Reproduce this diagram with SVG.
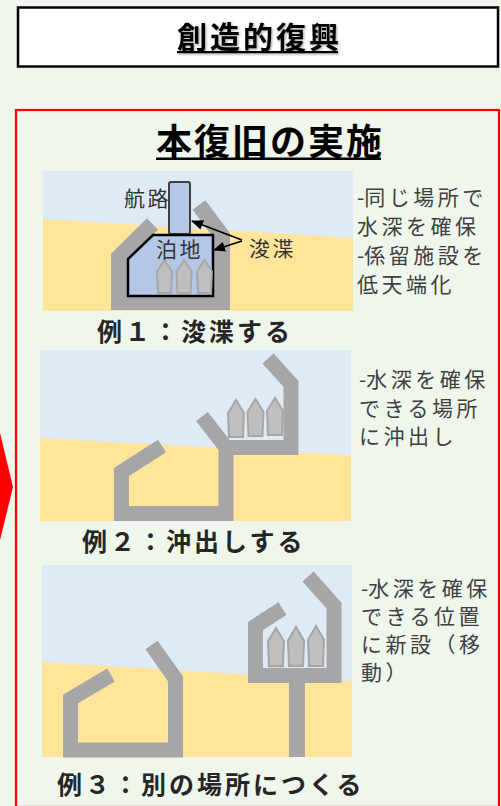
<svg xmlns="http://www.w3.org/2000/svg" width="501" height="806" viewBox="0 0 501 806">
  <style>
    .jp { font-family: "Noto Sans CJK JP", "Noto Sans", sans-serif; }
    .head { font-weight: 700; fill: #000; }
    .cap { font-weight: 700; font-size: 25px; letter-spacing: 3px; fill: #262626; }
    .note { font-size: 21px; letter-spacing: 3.5px; fill: #404040; }
    .lbl { font-size: 21px; letter-spacing: 2.5px; fill: #333; }
    .sky { fill: #DEEAF6; }
    .sand { fill: #FFE599; }
    .wall { fill: none; stroke: #A6A6A6; stroke-width: 15; stroke-linejoin: miter; stroke-linecap: butt; }
    .boat { fill: #BFBFBF; stroke: #A6A6A6; stroke-width: 2; }
    .basin { fill: #B4C7E7; }
  </style>
  <defs>
    <path id="boat" d="M8,0 L16,13 L15,37 L1,37 L0,13 Z"/>
    <marker id="ah" viewBox="0 0 12 10" refX="11" refY="5" markerWidth="12" markerHeight="10" markerUnits="userSpaceOnUse" orient="auto">
      <path d="M0,0 L12,5 L0,10 Z" fill="#000"/>
    </marker>
    <filter id="shadow" x="-10%" y="-30%" width="120%" height="160%">
      <feDropShadow dx="1.2" dy="1.2" stdDeviation="0.8" flood-color="#000" flood-opacity="0.35"/>
    </filter>
  </defs>

  <!-- page background -->
  <rect x="0" y="0" width="501" height="806" fill="#EFF6EC"/>

  <!-- heading box -->
  <g id="title">
    <rect x="18" y="7.5" width="480" height="59" fill="#FFFFFF" stroke="#000" stroke-width="2.5"/>
    <g filter="url(#shadow)">
      <text class="jp head" x="177" y="48" font-size="30" letter-spacing="3">創造的復興</text>
      <rect x="177" y="51" width="161" height="2.2" fill="#000"/>
    </g>
  </g>

  <!-- red pointer on the left edge -->
  <g id="pointer">
    <polygon points="0,433 13,487 0,540" fill="#FF0000"/>
  </g>

  <!-- red frame -->
  <g id="frame">
    <rect x="16" y="110" width="483" height="697" fill="none" stroke="#FF0000" stroke-width="2.2"/>
    <text class="jp head" x="156" y="154.5" font-size="36" letter-spacing="2">本復旧の実施</text>
    <rect x="156" y="157.5" width="225" height="2.5" fill="#000"/>
  </g>

  <!-- example 1: dredging -->
  <g id="example1">
    <rect class="sky" x="43" y="171" width="310" height="140"/>
    <polygon class="sand" points="43,219 353,238 353,311 43,311"/>
    <path class="wall" style="stroke-width:16" d="M152.5,224 L119,257 L119,302 L222,302 L222,236 L199,205"/>
    <rect class="basin" x="169" y="182" width="21" height="52" rx="2" stroke="#404040" stroke-width="2"/>
    <polygon class="basin" points="153,235 213,235 213,296 128,296 128,259" stroke="#000" stroke-width="2.5" stroke-linejoin="miter"/>
    <use href="#boat" class="boat" transform="translate(157,260) scale(0.94,0.89)"/>
    <use href="#boat" class="boat" transform="translate(176.5,260) scale(0.94,0.89)"/>
    <use href="#boat" class="boat" transform="translate(197,260) scale(0.94,0.89)"/>
    <text class="jp lbl" x="124" y="205.5">航路</text>
    <text class="jp lbl" x="156" y="256.5">泊地</text>
    <text class="jp lbl" x="249" y="255.5">浚渫</text>
    <text class="jp note" x="357" y="205"><tspan letter-spacing="0">-</tspan>同じ場所で</text>
    <text class="jp note" x="357" y="234">水深を確保</text>
    <text class="jp note" x="357" y="263"><tspan letter-spacing="0">-</tspan>係留施設を</text>
    <text class="jp note" x="357" y="292">低天端化</text>
    <text class="jp cap" x="97" y="341">例１：浚渫する</text>
  </g>

  <!-- example 2: moving offshore -->
  <g id="example2">
    <rect class="sky" x="40" y="350" width="311" height="171"/>
    <polygon class="sand" points="40,438 351,455 351,521 40,521"/>
    <path class="wall" d="M162,446 L121.5,472 L121.5,513.5 L226,513.5 L226,447.5"/>
    <path class="wall" d="M202,416.5 L226,447.5 L291,447.5 L291,384 L268,358.5"/>
    <use href="#boat" class="boat" transform="translate(228,400)"/>
    <use href="#boat" class="boat" transform="translate(247.5,399)"/>
    <use href="#boat" class="boat" transform="translate(267,398)"/>
    <text class="jp note" x="359" y="387"><tspan letter-spacing="0">-</tspan>水深を確保</text>
    <text class="jp note" x="359" y="415.5">できる場所</text>
    <text class="jp note" x="359" y="444">に沖出し</text>
    <text class="jp cap" x="82" y="551">例２：沖出しする</text>
  </g>

  <!-- example 3: new site -->
  <g id="example3">
    <rect class="sky" x="42" y="565" width="310" height="192"/>
    <polygon class="sand" points="42,662 352,681 352,757 42,757"/>
    <path class="wall" d="M111,675 L70.5,699 L70.5,750 L175.5,750 L175.5,679 L151.5,645"/>
    <path class="wall" d="M282.5,608.5 L255.5,626 L255.5,675.5 L334,675.5 L334,605.5 L308,576.5"/>
    <path class="wall" style="stroke-width:16" d="M297,675 L297,757"/>
    <use href="#boat" class="boat" transform="translate(268,628) scale(1,1.03)"/>
    <use href="#boat" class="boat" transform="translate(288,627) scale(1,1.05)"/>
    <use href="#boat" class="boat" transform="translate(308,626) scale(1,1.08)"/>
    <text class="jp note" x="361" y="596"><tspan letter-spacing="0">-</tspan>水深を確保</text>
    <text class="jp note" x="361" y="624">できる位置</text>
    <text class="jp note" x="361" y="652">に新設（移</text>
    <text class="jp note" x="361" y="680">動）</text>
    <text class="jp cap" x="57" y="794">例３：別の場所につくる</text>
  </g>

  <!-- leader arrows for the dredging label -->
  <g id="connectors">
    <line x1="242" y1="240" x2="192" y2="221" stroke="#000" stroke-width="1.6" marker-end="url(#ah)"/>
    <line x1="242" y1="241" x2="214" y2="250" stroke="#000" stroke-width="1.6" marker-end="url(#ah)"/>
  </g>
</svg>
